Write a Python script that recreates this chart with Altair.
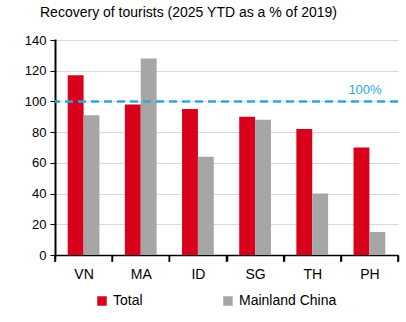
import altair as alt
import pandas as pd

countries = ["VN", "MA", "ID", "SG", "TH", "PH"]
total = [117, 98, 95, 90, 82, 70]
china = [91, 128, 64, 88, 40, 15]
series = ["Total", "Mainland China"]
colors = ["#d9001b", "#a6a6a6"]

rows = []
for c, t, m in zip(countries, total, china):
    rows.append({"country": c, "series": "Total", "value": t})
    rows.append({"country": c, "series": "Mainland China", "value": m})
df = pd.DataFrame(rows)
ref = pd.DataFrame({"value": [100], "label": ["100%"]})
cats = pd.DataFrame({"country": countries})
last = pd.DataFrame({"country": [countries[-1]]})

FONT = "Liberation Sans"

xscale = alt.Scale(domain=countries, paddingInner=0, paddingOuter=0)
x = alt.X("country:N", sort=countries, title=None, scale=xscale,
          axis=alt.Axis(labelAngle=0, labelFontSize=14, labelColor="black",
                        labelFont=FONT, labelPadding=6, domainColor="black",
                        domainWidth=1.5, ticks=True, tickBand="extent",
                        tickExtra=True, tickSize=6, tickWidth=1.5,
                        tickColor="black", tickOpacity=1))
yscale = alt.Scale(domain=[0, 140], nice=False)
y_axis = alt.Axis(values=[0, 20, 40, 60, 80, 100, 120, 140], labelFontSize=13,
                  labelColor="black", labelFont=FONT, labelPadding=4,
                  labelOverlap=False, tickCount=8,
                  domainColor="black", domainWidth=2, tickColor="black",
                  tickSize=5, gridColor="#d9d9d9", gridWidth=1.2)
y = alt.Y("value:Q", title=None, scale=yscale, axis=y_axis)

bars = alt.Chart(df).mark_bar().encode(
    x=x, y=y,
    xOffset=alt.XOffset("series:N", sort=series,
                        scale=alt.Scale(paddingInner=0, paddingOuter=0.8)),
    color=alt.Color("series:N", sort=series,
                    scale=alt.Scale(domain=series, range=colors),
                    legend=alt.Legend(title=None, orient="none", legendX=40,
                                      legendY=254, direction="horizontal",
                                      symbolType="square", symbolSize=90,
                                      symbolStrokeWidth=0, labelFontSize=14,
                                      labelFont=FONT, labelColor="black",
                                      columnPadding=78, symbolOpacity=1)),
)

ticks0 = alt.Chart(cats).mark_tick(color="black", thickness=1.5, size=7,
                                   orient="vertical", clip=False, opacity=1).encode(
    x=alt.X("country:N", sort=countries, scale=xscale, bandPosition=0),
    y=alt.Y(datum=-2.3, scale=yscale, axis=y_axis, title=None))
ticks1 = alt.Chart(last).mark_tick(color="black", thickness=1.5, size=7,
                                   orient="vertical", clip=False, opacity=1).encode(
    x=alt.X("country:N", sort=countries, scale=xscale, bandPosition=1),
    y=alt.Y(datum=-2.3, scale=yscale, axis=y_axis, title=None))

rule = alt.Chart(ref).mark_rule(color="#2aa7e0", strokeDash=[8, 5], strokeWidth=2.5).encode(
    y=y)
txt = alt.Chart(ref).mark_text(color="#2aa7e0", fontSize=13, font=FONT,
                               align="center", baseline="bottom", dy=-4).encode(
    y=y, x=alt.value(310), text="label:N")

chart = alt.layer(bars, rule, txt, ticks0, ticks1).properties(
    width=343, height=215,
    title=alt.TitleParams("Recovery of tourists (2025 YTD as a % of 2019)",
                          anchor="start", frame="group", dx=-15, offset=14,
                          fontSize=14, font=FONT, fontWeight="normal",
                          color="black"),
    autosize=alt.AutoSizeParams(type="none"),
    padding={"left": 55, "top": 40, "right": 8, "bottom": 67},
).configure_view(stroke=None).configure_axisY(domainCap="square")

chart.save("out.html", embed_options={"renderer": "svg", "actions": False})
